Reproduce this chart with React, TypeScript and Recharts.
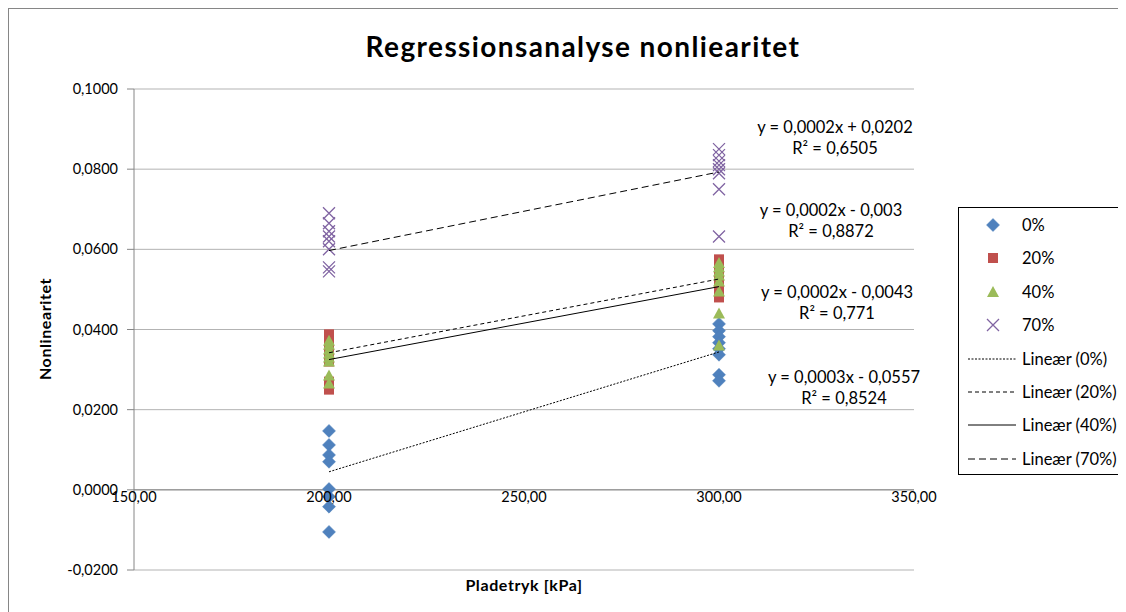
import React from "react";
import {
  CartesianGrid,
  ReferenceDot,
  ReferenceLine,
  Scatter,
  ScatterChart,
  XAxis,
  YAxis,
} from "recharts";

// pressure levels (kPa)
const pressures = [200, 300];

// nonlinearity readings per load level, 8 readings at each pressure
const s0_200 = [0.0147, 0.0112, 0.0087, 0.007, 0.0002, -0.0017, -0.0042, -0.0105];
const s0_300 = [0.0414, 0.0397, 0.0382, 0.0367, 0.0352, 0.0337, 0.0287, 0.0272];
const s20_200 = [0.0388, 0.038, 0.037, 0.0355, 0.034, 0.032, 0.027, 0.025];
const s20_300 = [0.0575, 0.0565, 0.0555, 0.0545, 0.0535, 0.052, 0.05, 0.048];
const s40_200 = [0.0372, 0.0362, 0.035, 0.034, 0.033, 0.032, 0.0285, 0.0265];
const s40_300 = [0.0566, 0.0555, 0.0545, 0.0535, 0.052, 0.0495, 0.044, 0.036];
const s70_200 = [0.069, 0.0665, 0.0645, 0.0632, 0.062, 0.06, 0.0555, 0.0545];
const s70_300 = [0.085, 0.0835, 0.082, 0.081, 0.08, 0.079, 0.075, 0.0632];

// trend line values at 200 / 300 kPa
const trend0 = [0.0045, 0.0344];
const trend20 = [0.0342, 0.0526];
const trend40 = [0.0325, 0.0507];
const trend70 = [0.0597, 0.0793];

const equations = [
  ["y = 0,0002x + 0,0202", "R² = 0,6505"],
  ["y = 0,0002x - 0,003", "R² = 0,8872"],
  ["y = 0,0002x - 0,0043", "R² = 0,771"],
  ["y = 0,0003x - 0,0557", "R² = 0,8524"],
];

const xTicks = [150, 200, 250, 300, 350];
const yTicks = [-0.02, 0, 0.02, 0.04, 0.06, 0.08, 0.1];

const FONT = "Lato, 'Open Sans', sans-serif";

const pts = (a: number[], b: number[]) => [
  ...a.map((y) => ({ x: pressures[0], y })),
  ...b.map((y) => ({ x: pressures[1], y })),
];
const line = (t: number[]) => t.map((y, i) => ({ x: pressures[i], y }));

const Diamond = ({ cx, cy }: any) => (
  <path d={`M${cx},${cy - 6.5}L${cx + 6.5},${cy}L${cx},${cy + 6.5}L${cx - 6.5},${cy}Z`} fill="#4f81bd" stroke="#4a7ebb" strokeWidth={0.5} />
);
const Square = ({ cx, cy }: any) => (
  <rect x={cx - 5} y={cy - 5} width={10} height={10} fill="#c0504d" />
);
const Triangle = ({ cx, cy }: any) => (
  <path d={`M${cx},${cy - 6}L${cx + 6},${cy + 5}L${cx - 6},${cy + 5}Z`} fill="#9bbb59" />
);
const Cross = ({ cx, cy }: any) => (
  <path d={`M${cx - 6},${cy - 6}L${cx + 6},${cy + 6}M${cx + 6},${cy - 6}L${cx - 6},${cy + 6}`} stroke="#8064a2" strokeWidth={1.3} fill="none" />
);
const NoShape = () => <g />;

const fmtY = (v: number) => v.toFixed(4).replace(".", ",");

const legendItems = [
  { label: "0%", icon: <Diamond cx={12} cy={8} /> },
  { label: "20%", icon: <Square cx={12} cy={8} /> },
  { label: "40%", icon: <Triangle cx={12} cy={8} /> },
  { label: "70%", icon: <Cross cx={12} cy={8} /> },
  { label: "Lineær (0%)", dash: "2 1.5", line: true },
  { label: "Lineær (20%)", dash: "4 3", line: true },
  { label: "Lineær (40%)", dash: undefined, line: true },
  { label: "Lineær (70%)", dash: "7 4", line: true },
];

// page coords minus 9 (body margin + border)
const eqPos = [
  [826, 119],
  [822, 202],
  [828, 284],
  [835, 369],
];

export default function App() {
  return (
    <div
      style={{
        position: "relative",
        width: 1130,
        height: 620,
        borderLeft: "1px solid #868686",
        borderTop: "1px solid #868686",
        fontFamily: FONT,
        color: "#000",
      }}
    >
      <div style={{ position: "absolute", left: 0, top: 0 }}>
        <ScatterChart width={1120} height={600} margin={{ top: 80, right: 215, bottom: 39, left: 0 }}>
          <CartesianGrid horizontal vertical={false} stroke="#b3b3b3" />
          <XAxis type="number" dataKey="x" domain={[150, 350]} ticks={xTicks} hide />
          <YAxis
            type="number"
            dataKey="y"
            domain={[-0.02, 0.1]}
            ticks={yTicks}
            width={125}
            tickFormatter={fmtY}
            tickSize={7}
            tickMargin={9}
            interval={0}
            stroke="#868686"
            tick={{ fill: "#000", fontSize: 14.5, fontFamily: FONT }}
          />
          <ReferenceLine y={0} stroke="#868686" strokeWidth={1} />
          {xTicks.map((t) => (
            <ReferenceDot
              key={t}
              x={t}
              y={0}
              r={0}
              stroke="none"
              fill="none"
              label={{ value: t.toFixed(2).replace(".", ","), position: "bottom", offset: 2, fill: "#000", fontSize: 14.5, fontFamily: FONT }}
            />
          ))}
          <Scatter name="0%" data={pts(s0_200, s0_300)} shape={Diamond} isAnimationActive={false} />
          <Scatter name="20%" data={pts(s20_200, s20_300)} shape={Square} isAnimationActive={false} />
          <Scatter name="40%" data={pts(s40_200, s40_300)} shape={Triangle} isAnimationActive={false} />
          <Scatter name="70%" data={pts(s70_200, s70_300)} shape={Cross} isAnimationActive={false} />
          <Scatter data={line(trend0)} line={{ stroke: "#000", strokeWidth: 1, strokeDasharray: "2 1.5" }} shape={NoShape} isAnimationActive={false} />
          <Scatter data={line(trend20)} line={{ stroke: "#000", strokeWidth: 1, strokeDasharray: "4 3" }} shape={NoShape} isAnimationActive={false} />
          <Scatter data={line(trend40)} line={{ stroke: "#000", strokeWidth: 1 }} shape={NoShape} isAnimationActive={false} />
          <Scatter data={line(trend70)} line={{ stroke: "#000", strokeWidth: 1, strokeDasharray: "7 4" }} shape={NoShape} isAnimationActive={false} />
        </ScatterChart>
      </div>

      <div style={{ position: "absolute", left: 18, width: 1112, top: 20, textAlign: "center", fontSize: 28, fontWeight: 700, letterSpacing: 1.4 }}>
        Regressionsanalyse nonliearitet
      </div>

      {equations.map(([a, b], i) => (
        <div
          key={i}
          style={{
            position: "absolute",
            left: eqPos[i][0] - 110,
            width: 220,
            top: eqPos[i][1] - 11,
            textAlign: "center",
            fontSize: 16.5,
            lineHeight: "21px",
          }}
        >
          <div>{a}</div>
          <div>{b}</div>
        </div>
      ))}

      <div
        style={{
          position: "absolute",
          left: 35,
          top: 320,
          transform: "translate(-50%, -50%) rotate(-90deg)",
          fontSize: 16,
          fontWeight: 700,
          letterSpacing: 0.6,
          whiteSpace: "nowrap",
        }}
      >
        Nonlinearitet
      </div>
      <div style={{ position: "absolute", left: 405, width: 220, top: 566, textAlign: "center", fontSize: 16, fontWeight: 700, letterSpacing: 0.6 }}>
        Pladetryk [kPa]
      </div>

      <div
        style={{
          position: "absolute",
          left: 949,
          top: 198,
          width: 200,
          height: 268,
          border: "1px solid #000",
          boxSizing: "border-box",
          fontSize: 16.5,
        }}
      >
        {legendItems.map((it, i) => (
          <div key={i} style={{ position: "absolute", top: 8 + i * 33.4, left: 0, height: 18, display: "flex", alignItems: "center", whiteSpace: "nowrap" }}>
            {it.line ? (
              <svg width={62} height={16} style={{ marginLeft: 9 }}>
                <line x1={0} y1={8} x2={48} y2={8} stroke="#000" strokeWidth={1} strokeDasharray={it.dash} />
              </svg>
            ) : (
              <svg width={62} height={16} style={{ marginLeft: 22 }}>
                {it.icon}
              </svg>
            )}
            <span style={{ marginLeft: it.line ? -8 : -21 }}>{it.label}</span>
          </div>
        ))}
      </div>
    </div>
  );
}
